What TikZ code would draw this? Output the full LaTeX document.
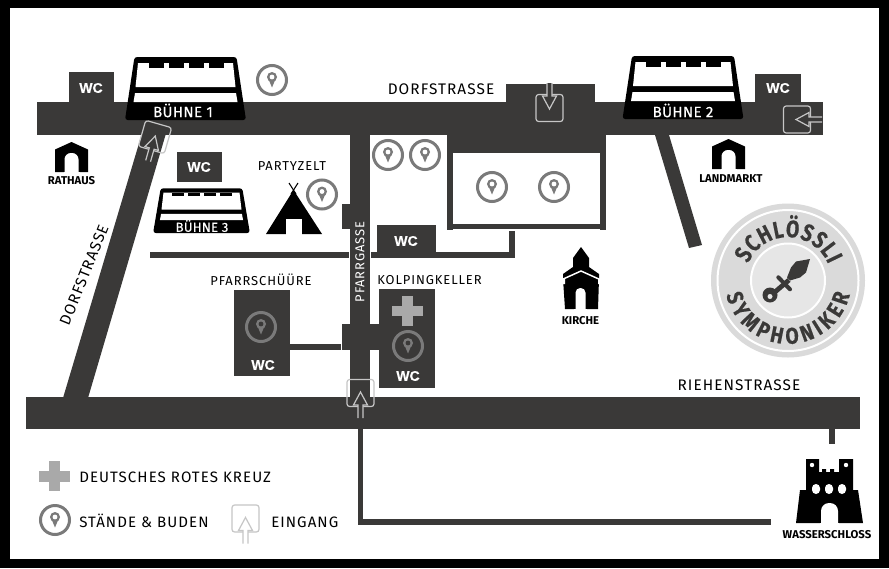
\documentclass[tikz,border=0pt]{standalone}
\usepackage{fontspec}
\setmainfont{Fira Sans}
\newfontfamily\wcfont[FakeBold=0.3]{Liberation Sans}
\newfontfamily\labelfont[LetterSpace=7]{Fira Sans}
\newfontfamily\stagefont[FakeBold=0.3,LetterSpace=2]{Fira Sans}
\newfontfamily\logotopfont[FakeStretch=0.8,FakeBold=0.4]{Fira Sans}
\newfontfamily\logobotfont[FakeStretch=0.85,FakeBold=0.4]{Fira Sans}
\usetikzlibrary{decorations.text}
\definecolor{roadgray}{HTML}{3A3938}
\definecolor{pingray}{HTML}{7A7A7A}
\definecolor{crossgray}{HTML}{A9A9A9}
\definecolor{logoband}{HTML}{DADADA}
\definecolor{logoinner}{HTML}{E6E6E6}

\begin{document}
\begin{tikzpicture}[
  x=0.75pt, y=-0.75pt,
  road/.style={fill=roadgray},
  label/.style={inner sep=0pt, font=\labelfont\fontsize{11.5}{13}\selectfont, text=black},
  legend/.style={inner sep=0pt, anchor=west, font=\labelfont\fontsize{11.3}{13}\selectfont, text=black},
  sublabel/.style={inner sep=0pt, font=\labelfont\fontsize{9.7}{12}\selectfont, text=black},
  small/.style={inner sep=0pt, font=\fontsize{8.5}{10}\selectfont\bfseries, text=black},
  stagetext/.style={inner sep=0pt, font=\stagefont\fontsize{11.3}{13}\selectfont, text=white},
  wctext/.style={inner sep=0pt, font=\wcfont\fontsize{10.5}{12}\selectfont\bfseries, text=white},
  pics/stage/.style={code={
    \fill[black, rounded corners=2pt] (-51,-63) -- (51,-63) -- (60.5,0) -- (-60.5,0) -- cycle;
    \fill[white] (-47.5,-57) -- (47.5,-57) -- (50,-33) -- (-50,-33) -- cycle;
    \fill[black] (-37,-57) rectangle (-22,-52);
    \fill[black] (-17,-57) rectangle (-2,-52);
    \fill[black] (3,-57) rectangle (18,-52);
    \fill[black] (23,-57) rectangle (38,-52);
    \fill[white] (-50.5,-27) -- (50.5,-27) -- (52,-18) -- (-52,-18) -- cycle;
  }},
  pics/pin/.style={code={
    \draw[pingray, line width=2.25pt] (0,0) circle[radius=14.5];
    \fill[pingray] (-4.6,-3.5) -- (0,7.5) -- (4.6,-3.5) -- cycle;
    \fill[pingray] (0,-3) circle[radius=5];
    \fill[#1] (0,-3) circle[radius=2.4];
  }},
  pics/entry/.style={code={
    \draw[gray!45, line width=0.9pt, rounded corners=2pt] (-13.5,-13.5) rectangle (13.5,13.5);
    \draw[gray!45, line width=0.9pt, fill=#1] (-2.5,25) -- (-2.5,12) -- (-7,12) -- (0,-1) -- (7,12) -- (2.5,12) -- (2.5,25);
  }},
  pics/house/.style={code={
    \fill[black] (-16.5,30) -- (-16.5,7.5) -- (0,0) -- (16.5,7.5) -- (16.5,30) -- cycle;
    \fill[white, rounded corners=4.8pt] (-7,40) -- (-7,11) -- (7,11) -- (7,40) -- cycle;
    \fill[white] (-8,30) rectangle (8,42);
  }},
  pics/cross/.style={code={
    \fill[crossgray] (-5.5,-15) rectangle (5.5,15);
    \fill[crossgray] (-15.5,-5) rectangle (15.5,5.5);
  }},
]
  % frame
  \fill[black] (0,0) rectangle (889,568);
  \fill[white] (10,8) rectangle (879,559);

  % roads
  \fill[road] (37,102) rectangle (823,135);
  \fill[road] (506,84) rectangle (595,102);
  \fill[road] (143,130) -- (167,130) -- (88,398) -- (63,398) -- cycle;
  \fill[road] (655,135) -- (669,135) -- (702,245) -- (689,248) -- cycle;
  \fill[road] (350,135) rectangle (370,398);
  \fill[road] (342,204) rectangle (350,229);
  \fill[road] (342,324) rectangle (379,350);
  \fill[road] (150,252) rectangle (349,258);
  \fill[road] (371,252) rectangle (514.5,258);
  \fill[road] (509,229) rectangle (514.5,258);
  \fill[road] (290,344) rectangle (341,350);
  \fill[road] (26,397) rectangle (860,429);
  \fill[road] (358,429) rectangle (363,525);
  \fill[road] (358,519) rectangle (771,525);
  \fill[road] (829,429) rectangle (835,444);

  % building with yard
  \fill[road] (447,135) rectangle (606,230);
  \fill[white] (453,153) rectangle (600,224);
  \fill[white] (453,229) rectangle (600,231);

  % blocks with wc
  \fill[road] (69,72) rectangle (114,102);
  \fill[road] (755,74) rectangle (801,102);
  \fill[road] (177,152) rectangle (222,182);
  \fill[road] (377,225) rectangle (436,252);
  \fill[road] (234,290) rectangle (290,376);
  \fill[road] (379,289) rectangle (435,388);
  \node[wctext] (wcone) at (91,88) {WC};
  \node[wctext] (wctwo) at (778,88) {WC};
  \node[wctext] (wcthree) at (199,167) {WC};
  \node[wctext] (wcfour) at (406,241) {WC};
  \node[wctext] (wcfive) at (263,365) {WC};
  \node[wctext] (wcsix) at (408,376) {WC};

  % stages
  \pic at (185.5,120) {stage};
  \pic at (683,119) {stage};
  \pic[xscale=0.8, yscale=0.71] at (201.5,233) {stage};
  \node[stagetext] (buehneone) at (183,110.5) {BÜHNE 1};
  \node[stagetext] (buehnetwo) at (683,110.5) {BÜHNE 2};
  \node[stagetext, font=\stagefont\fontsize{9.8}{11}\selectfont] (buehnethree) at (202,226) {BÜHNE 3};

  % entrances
  \pic[rotate=-16] at (155,137) {entry=roadgray};
  \pic[rotate=180] at (549.5,108) {entry=roadgray};
  \pic[rotate=90] at (797,119.5) {entry=roadgray};
  \pic at (360.5,393) {entry=roadgray};
  \pic at (245.5,518.5) {entry=white};

  % stands
  \pic at (272,80) {pin=white};
  \pic at (322,194.5) {pin=white};
  \pic at (388,155) {pin=white};
  \pic at (425,155) {pin=white};
  \pic at (492,187) {pin=white};
  \pic at (554,187) {pin=white};
  \pic at (55,520) {pin=white};
  \pic at (261,327) {pin=roadgray};
  \pic at (408,346) {pin=roadgray};

  % crosses
  \pic at (407.5,310.5) {cross};
  \pic at (54,476) {cross};

  % houses
  \pic at (71.5,142) {house};
  \pic at (728.5,139) {house};
  \node[small] (rathaus) at (71.5,181) {RATHAUS};
  \node[small] (landmarkt) at (731,179) {LANDMARKT};

  % tent
  \fill[black] (293.5,190) -- (322,234) -- (266,234) -- cycle;
  \draw[black, line width=0.8pt] (289,183) -- (296,194);
  \draw[black, line width=0.8pt] (298,183) -- (291,194);
  \fill[white] (286,219) rectangle (302,234.5);
  \node[sublabel] (partyzelt) at (292,166) {PARTYZELT};

  % church
  \fill[black] (581,247) -- (589,258) -- (589,267) -- (599,274) -- (599,279) -- (598,309) -- (565,309) -- (563,279) -- (563,274) -- (573,267) -- (573,258) -- cycle;
  \draw[white, line width=1.1pt] (561,280) -- (581,271) -- (601,280);
  \fill[white] (561,280) -- (565,278.5) -- (565,284) -- (561,284) -- cycle;
  \fill[white] (601,280) -- (598,278.5) -- (598,284) -- (601,284) -- cycle;
  \fill[white, rounded corners=3.5pt] (575.5,320) -- (575.5,288) -- (585.5,288) -- (585.5,320) -- cycle;
  \fill[white] (574,309) rectangle (587,316);
  \node[small] (kirche) at (580.5,321) {KIRCHE};

  % castle
  \fill[black] (806,459) -- (819,459) -- (819,472) -- (822,472) -- (822,469) -- (826,469) -- (826,472) -- (830,472) -- (830,469) -- (834,469) -- (834,472) -- (839,472) -- (839,459) -- (853,459) -- (853,490) -- (858,490) -- (863,523) -- (796,523) -- (800,490) -- (806,490) -- cycle;
  \fill[white, rounded corners=6pt] (821,540) -- (821,503) -- (838,503) -- (838,540) -- cycle;
  \fill[white] (820,523) rectangle (839,529);
  \fill[white, rounded corners=3pt] (812,494) -- (812,484) -- (820,484) -- (820,494) -- cycle;
  \fill[white, rounded corners=3pt] (825,494) -- (825,484) -- (833,484) -- (833,494) -- cycle;
  \fill[white, rounded corners=3pt] (838,494) -- (838,484) -- (846,484) -- (846,494) -- cycle;
  \fill[white] (812,465) circle[radius=2.2];
  \fill[white] (846,465) circle[radius=2.2];
  \node[small] (wasserschloss) at (827,535) {WASSERSCHLOSS};

  % street names
  \node[label] (dorfstrasseone) at (441,89) {DORFSTRASSE};
  \node[label] (riehenstrasse) at (739,385) {RIEHENSTRASSE};
  \node[label, rotate=68] (dorfstrassetwo) at (84,275) {DORFSTRASSE};
  \node[sublabel, text=white, rotate=90] (pfarrgasse) at (360,262) {PFARRGASSE};
  \node[sublabel] (pfarrschuure) at (261,279.5) {PFARRSCHÜÜRE};
  \node[sublabel] (kolping) at (429.5,280) {KOLPINGKELLER};

  % legend
  \node[legend] (legendcross) at (79,477) {DEUTSCHES ROTES KREUZ};
  \node[legend] (legendpin) at (79,520.5) {STÄNDE \& BUDEN};
  \node[legend] (legendentry) at (271,522) {EINGANG};

  % logo
  \begin{scope}[shift={(788,280.5)}]
    \fill[logoband] (0,0) circle[radius=77];
    \draw[white, line width=1.5pt] (0,0) circle[radius=70.5];
    \draw[white, line width=1.5pt, fill=logoinner] (0,0) circle[radius=37];
    \begin{scope}[x=1pt, y=1pt]
      \path[decorate, decoration={text along path, text align=fit to path,
        text={|\logotopfont\fontsize{18}{19}\selectfont\bfseries\color{roadgray}|SCHLÖSSLI}}]
        (157:32.5pt) arc[start angle=157, end angle=22, radius=32.5pt];
      \path[decorate, decoration={text along path, text align=fit to path,
        text={|\logobotfont\fontsize{17}{19}\selectfont\bfseries\color{roadgray}|SYMPHONIKER}}]
        (193:47.5pt) arc[start angle=193, end angle=347, radius=47.5pt];
    \end{scope}
    % sword
    \fill[roadgray] (22,-21.5) -- (8,-19) -- (3,-13) -- (-1,-3) -- (2,0) -- (12,-3) -- (18,-8) -- cycle;
    \draw[roadgray, line width=3pt, line cap=round] (-9.7,-3.2) -- (2,8.8);
    \draw[roadgray, line width=3.6pt] (1,-0.5) -- (-16,14);
    \fill[roadgray] (-18,14.5) circle[radius=7.5];
    \fill[logoinner] (-18,16) circle[radius=2.5];
  \end{scope}
\end{tikzpicture}
\end{document}
